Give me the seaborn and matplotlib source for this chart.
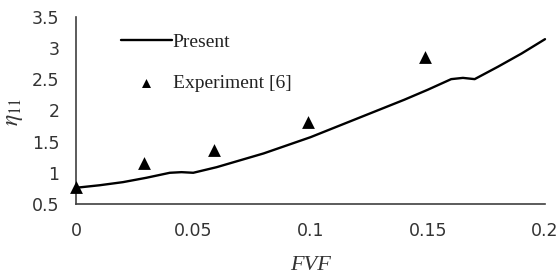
import matplotlib
matplotlib.use("Agg")
import matplotlib.pyplot as plt
import seaborn as sns
import pandas as pd

# Present (model) curve
fvf_model = [0, 0.01, 0.02, 0.03, 0.04, 0.045, 0.05, 0.06, 0.07, 0.08, 0.09, 0.10,
             0.11, 0.12, 0.13, 0.14, 0.15, 0.16, 0.165, 0.17, 0.18, 0.19, 0.20]
eta_model = [0.76, 0.80, 0.85, 0.92, 1.00, 1.01, 1.00, 1.09, 1.20, 1.31, 1.44, 1.57,
             1.72, 1.87, 2.02, 2.17, 2.33, 2.50, 2.52, 2.50, 2.70, 2.91, 3.14]
# Experiment [6]
fvf_exp = [0.0, 0.029, 0.059, 0.099, 0.149]
eta_exp = [0.78, 1.15, 1.37, 1.81, 2.85]

xticks = [0, 0.05, 0.1, 0.15, 0.2]
xtick_labels = ["0", "0.05", "0.1", "0.15", "0.2"]
yticks = [0.5, 1, 1.5, 2, 2.5, 3, 3.5]
ytick_labels = ["0.5", "1", "1.5", "2", "2.5", "3", "3.5"]

sns.set_theme(style="white")
plt.rcParams["font.family"] = ["DejaVu Sans"]
plt.rcParams["mathtext.fontset"] = "stix"

df_model = pd.DataFrame({"FVF": fvf_model, "eta": eta_model})
df_exp = pd.DataFrame({"FVF": fvf_exp, "eta": eta_exp})

fig = plt.figure(figsize=(5.58, 2.75), dpi=100)
ax = fig.add_axes([76/558, 1-204/275, 469/558, 187.3/275])

sns.lineplot(data=df_model, x="FVF", y="eta", ax=ax, color="black", linewidth=1.7,
             label="Present", clip_on=False)
sns.scatterplot(data=df_exp, x="FVF", y="eta", ax=ax, color="black", marker="^",
                s=85, edgecolor="black", linewidth=0, label="Experiment [6]",
                clip_on=False, zorder=5)

ax.set_xlim(0, 0.2)
ax.set_ylim(0.5, 3.5)
ax.set_xticks(xticks)
ax.set_xticklabels(xtick_labels)
ax.set_yticks(yticks)
ax.set_yticklabels(ytick_labels)

axis_col = "#404040"
for s in ["top", "right"]:
    ax.spines[s].set_visible(False)
for s in ["left", "bottom"]:
    ax.spines[s].set_color(axis_col)
    ax.spines[s].set_linewidth(1.2)
ax.tick_params(axis="both", direction="in", length=4.5, width=1.0, color=axis_col,
               labelsize=12.5, labelcolor="#333333")
ax.tick_params(axis="x", pad=13)
ax.tick_params(axis="y", pad=12)

ax.set_xlabel("FVF", fontsize=16, fontstyle="italic", family="Liberation Serif",
              color="#333333", va="top")
ax.xaxis.set_label_coords(0.5, -0.275)
ax.set_ylabel(r"$\eta_{11}$", fontsize=17, color="#333333")
ax.yaxis.set_label_coords(-0.108, 0.49)

leg = ax.legend(loc="upper left", bbox_to_anchor=(0.096, 0.91), frameon=False,
                prop={"family": "Liberation Serif", "size": 14},
                handlelength=2.6, handletextpad=0.05, labelspacing=1.2,
                borderpad=0, borderaxespad=0, markerscale=0.7)
for t in leg.get_texts():
    t.set_color("#222222")

fig.savefig("out.png", dpi=100)
